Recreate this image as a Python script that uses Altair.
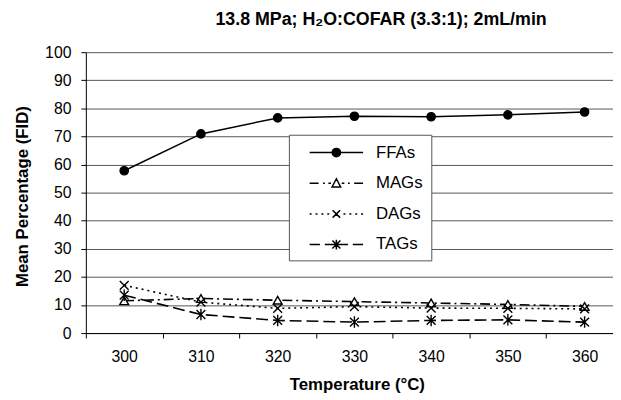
import altair as alt
import pandas as pd

# ---- data ----
temps = [300, 310, 320, 330, 340, 350, 360]
ffas = [57.8, 70.9, 76.6, 77.2, 77.0, 77.7, 78.7]
mags = [11.5, 12.3, 11.7, 11.2, 10.7, 10.2, 9.5]
dags = [17.0, 11.0, 8.8, 9.4, 8.9, 8.8, 8.6]
tags = [13.5, 6.6, 4.5, 3.9, 4.5, 4.7, 3.9]
series_names = ["FFAs", "MAGs", "DAGs", "TAGs"]
y_ticks = list(range(0, 101, 10))

title_text = "13.8 MPa; H\u2082O:COFAR (3.3:1); 2mL/min"
x_title = "Temperature (\u00b0C)"
y_title = "Mean Percentage (FID)"

values = {"FFAs": ffas, "MAGs": mags, "DAGs": dags, "TAGs": tags}
rows = []
for name in series_names:
    for t, v in zip(temps, values[name]):
        rows.append({"temp": t, "value": v, "series": name})
df = pd.DataFrame(rows)

FONT = "Liberation Sans"

# ---- styles ----
X_PATH = "M-1,-1L1,1M-1,1L1,-1"
AST_PATH = "M-1,-1L1,1M-1,1L1,-1M0,-1.3L0,1.3"
styles = {
    "FFAs": dict(dash=[1, 0], shape="circle", fill="black", size=70, sw=1.5),
    "MAGs": dict(dash=[10, 4, 2, 4], shape="triangle-up", fill="white", size=80, sw=1.6),
    "DAGs": dict(dash=[2, 4], shape=X_PATH, fill="white", size=80, sw=1.6),
    "TAGs": dict(dash=[12, 5], shape=AST_PATH, fill="white", size=80, sw=1.6),
}

# legend symbols: line segment + marker drawn as one path (units of 9px)
circ = "M-0.47,0A0.47,0.47 0 1,0 0.47,0A0.47,0.47 0 1,0 -0.47,0Z"
leg_ffa = "M-3,0L3,0" + circ
leg_mag = ("M-3,0L-2,0M-1.5,0L-1.3,0M-0.9,0L-0.6,0"
           "M0,-0.5L0.48,0.42L-0.48,0.42Z"
           "M0.6,0L0.9,0M1.3,0L1.5,0M2,0L3,0")
leg_dag = ("M-3,0L-2.78,0M-2.34,0L-2.12,0M-1.68,0L-1.46,0M-1.02,0L-0.8,0"
           "M-0.42,-0.42L0.42,0.42M-0.42,0.42L0.42,-0.42"
           "M0.8,0L1.02,0M1.46,0L1.68,0M2.12,0L2.34,0M2.78,0L3,0")
leg_tag = ("M-3,0L-1.85,0M-1.3,0L1.3,0M1.85,0L3,0"
           "M-0.45,-0.45L0.45,0.45M-0.45,0.45L0.45,-0.45M0,-0.55L0,0.55")
legend_paths = [leg_ffa, leg_mag, leg_dag, leg_tag]
legend_fills = ["black", "white", "white", "white"]
legend_strokes = ["black", "black", "black", "black"]

BAND = 77.6
x_enc = alt.X(
    "temp:Q",
    scale=alt.Scale(domain=[295, 363.7], nice=False, zero=False),
    axis=alt.Axis(
        values=temps, tickOffset=-BAND / 2, labelOffset=BAND / 2,
        grid=False, title=x_title, titleX=274, titleY=57,
        titleBaseline="alphabetic", titleAlign="center", titleAnchor="start",
        labelPadding=11,
    ),
)
y_enc = alt.Y(
    "value:Q",
    scale=alt.Scale(domain=[0, 100], nice=False),
    axis=alt.Axis(
        values=y_ticks, grid=True, title=y_title, titleX=-64, titleY=145.5,
        titleBaseline="middle", titleAlign="center", titleAnchor="start",
        labelPadding=10,
    ),
)

base = alt.Chart(df)
layers = []
for name in series_names:
    st = styles[name]
    sub = base.transform_filter(alt.datum.series == name)
    line_kw = dict(color="black", strokeWidth=st["sw"])
    if name != "FFAs":
        line_kw["strokeDash"] = st["dash"]
    layers.append(sub.mark_line(**line_kw).encode(x=x_enc, y=y_enc))
    layers.append(
        sub.mark_point(
            shape=st["shape"], filled=True, fill=st["fill"], stroke="black",
            strokeWidth=1.4, size=st["size"], opacity=1,
        ).encode(x=x_enc, y=y_enc)
    )

leg_props = dict(
    title=None, orient="none", legendX=205.3, legendY=83.5,
    symbolSize=324, symbolOffset=30, labelOffset=30, padding=8,
    rowPadding=13, fillColor="white", strokeColor="#555",
    labelFontSize=17, labelFont=FONT, labelColor="black",
    symbolStrokeColor="black", symbolStrokeWidth=1.5,
)
legend_layer = (
    base.transform_filter("datum.value < -1000")
    .mark_point(filled=True, strokeWidth=1.5, opacity=1)
    .encode(
        x=x_enc, y=y_enc,
        shape=alt.Shape("series:N", scale=alt.Scale(domain=series_names, range=legend_paths),
                        legend=alt.Legend(**leg_props)),
        fill=alt.Fill("series:N", scale=alt.Scale(domain=series_names, range=legend_fills),
                      legend=alt.Legend(**leg_props)),
        stroke=alt.Stroke("series:N", scale=alt.Scale(domain=series_names, range=legend_strokes),
                          legend=alt.Legend(**leg_props)),
    )
)
layers.append(legend_layer)

chart = (
    alt.layer(*layers)
    .properties(
        width=533, height=284,
        autosize=alt.AutoSizeParams(type="none"),
        padding={"left": 78.7, "top": 42.5, "right": 0, "bottom": 65.5},
        title=alt.Title(title_text, fontSize=18, fontWeight="bold", font=FONT,
                        anchor="middle", dx=32, dy=18, offset=19.5, baseline="alphabetic",
                        color="black"),
    )
    .configure_view(stroke=None)
    .configure_axis(
        labelFont=FONT, labelFontSize=16, labelColor="black",
        titleFont=FONT, titleFontSize=17, titleFontWeight="bold", titleColor="black",
        domainColor="black", tickColor="black", tickSize=5,
        gridColor="#555", gridWidth=1,
    )
)

chart.save("out.html", embed_options={"renderer": "svg", "actions": False})
